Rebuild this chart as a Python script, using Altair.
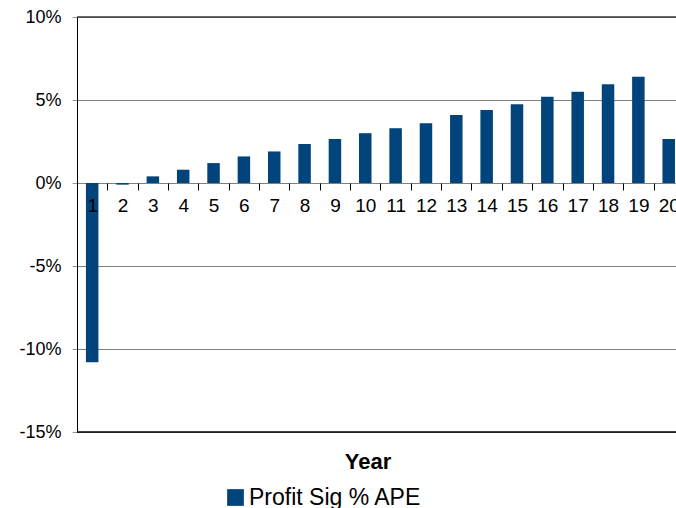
import altair as alt
import pandas as pd

# Profit signature by policy year, as a share of APE (percent)
years = list(range(1, 21))
profit_pct = [-10.8, -0.1, 0.4, 0.8, 1.2, 1.6, 1.9, 2.35, 2.65, 3.0,
              3.3, 3.6, 4.1, 4.4, 4.75, 5.2, 5.5, 5.95, 6.4, 2.65]
series_name = "Profit Sig % APE"

y_ticks = [-0.15, -0.10, -0.05, 0.0, 0.05, 0.10]
x_label_values = years
x_tick_values = [y + 0.5 for y in years[:-1]]

df = pd.DataFrame({
    "year": years,
    "value": [v / 100 for v in profit_pct],
    "series": [series_name] * len(years),
})
frame_df = pd.DataFrame({"v": [0.10, -0.15], "c": ["#3a3a3a", "#000000"]})
tick_df = pd.DataFrame({"t": x_tick_values})

FONT = "Liberation Sans"
BAR = "#01447C"

x_scale = alt.Scale(domain=[0.5, 20.24], nice=False, zero=False, padding=0)
y_scale = alt.Scale(domain=[-0.15, 0.10], nice=False)

y_axis = alt.Axis(
    values=y_ticks,
    labelExpr="(datum.value < -0.0001 ? '-' : '') + abs(round(datum.value * 100)) + '%'",
    grid=True, gridColor="#808080", gridWidth=1,
    domain=True, domainColor="#000000", domainWidth=1,
    ticks=True, tickSize=5, tickColor="#9a9a9a",
    labelFontSize=18, labelPadding=11, labelColor="#000000", labelFont=FONT,
    title=None,
)

label_axis = alt.Axis(
    orient="bottom",
    values=x_label_values, format="d",
    grid=False, domain=False, ticks=False,
    labelFontSize=19, labelPadding=13, labelColor="#000000", labelFont=FONT,
    labelFlush=False, labelOverlap=False,
    offset=-249, zindex=2,
    title="Year", titleFontSize=22, titleFontWeight="bold", titleFont=FONT,
    titleColor="#000000", titleX=290.5, titleY=278, titleAlign="center",
    titleBaseline="middle",
)

tick_axis = alt.Axis(
    orient="bottom",
    values=x_tick_values,
    grid=False, domain=False, labels=False,
    ticks=True, tickSize=7, tickColor="#000000", tickWidth=1,
    offset=-249, title=None, zindex=2,
)

bars = alt.Chart(df).mark_bar(size=12.5, clip=True).encode(
    x=alt.X("year:Q", scale=x_scale, axis=label_axis),
    y=alt.Y("value:Q", scale=y_scale, axis=y_axis),
    color=alt.Color(
        "series:N",
        scale=alt.Scale(range=[BAR]),
        legend=alt.Legend(
            orient="none", legendX=147, legendY=469, title=None,
            symbolType="square", symbolSize=280, symbolStrokeWidth=0,
            labelFontSize=23, labelFont=FONT, labelColor="#000000",
            labelOffset=2, labelLimit=400,
        ),
    ),
)

ticks = alt.Chart(tick_df).mark_point(opacity=0).encode(
    x=alt.X("t:Q", scale=x_scale, axis=tick_axis),
)

frame = alt.Chart(frame_df).mark_rule(strokeWidth=1.5).encode(
    y=alt.Y("v:Q", scale=y_scale),
    color=alt.Color("c:N", scale=None),
)

chart = (
    alt.layer(frame, bars, ticks)
    .resolve_axis(x="independent")
    .properties(
        width=599, height=415,
        autosize=alt.AutoSizeParams(type="none"),
        padding={"left": 77, "top": 17, "right": 0, "bottom": 76},
        background="#ffffff",
    )
    .configure_view(stroke=None)
    .configure(font=FONT)
)

chart.save("out.html", embed_options={"renderer": "svg", "actions": False})
